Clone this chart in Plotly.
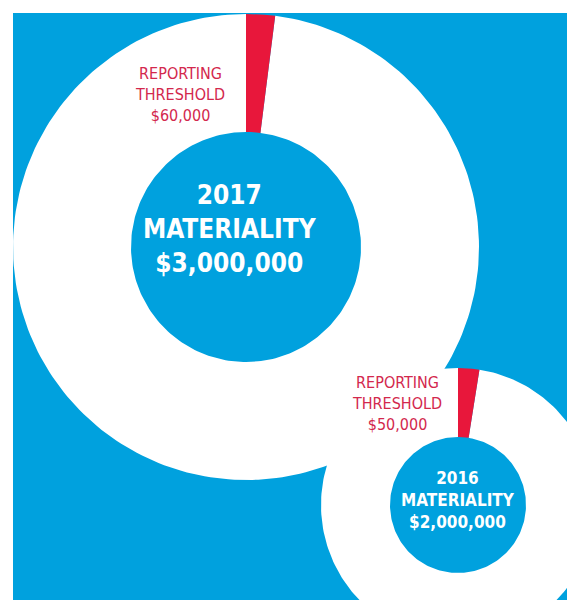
import numpy as np
import plotly.graph_objects as go

# Materiality figures and their reporting thresholds
years = ["2017", "2016"]
materiality = [3000000, 2000000]
threshold = [60000, 50000]

# Donut placement in pixel units (x right, y down)
centers = [(246, 247), (458, 505)]
outer_r = [233, 137]
inner_r = [115, 68]
center_text_pos = [(230, 229), (458, 500)]
label_pos = [(180, 94), (397, 403)]
center_font = [26, 17]

BLUE = "#00a1de"
RED = "#e8173b"
LABEL_RED = "#d3284d"
WHITE = "#ffffff"
FONT = "DejaVu Sans Condensed"

W, H = 567, 600
LEFT, TOP = 13, 13


def sector(cx, cy, r0, r1, t0, t1, n=240):
    """Annular sector, angles in degrees clockwise from 12 o'clock."""
    t = np.radians(np.linspace(t0, t1, n))
    xs = np.concatenate([cx + r1 * np.sin(t), cx + r0 * np.sin(t[::-1])])
    ys = np.concatenate([cy - r1 * np.cos(t), cy - r0 * np.cos(t[::-1])])
    return np.append(xs, xs[0]), np.append(ys, ys[0])


fig = go.Figure()
annotations = []

for i, year in enumerate(years):
    cx, cy = centers[i]
    share = threshold[i] / materiality[i]
    split = 360 * share
    for (a0, a1), color, name in (((split, 360), WHITE, "Materiality"),
                                  ((0, split), RED, "Reporting threshold")):
        xs, ys = sector(cx, cy, inner_r[i], outer_r[i], a0, a1)
        fig.add_trace(go.Scatter(
            x=xs, y=ys, mode="lines", fill="toself", fillcolor=color,
            line=dict(width=0, color=color), name=f"{name} {year}",
            hoverinfo="skip", showlegend=False))

    tx, ty = center_text_pos[i]
    annotations.append(dict(
        x=tx, y=ty, xref="x", yref="y", showarrow=False,
        text=f"<b>{year}<br>MATERIALITY<br>${materiality[i]:,.0f}</b>",
        font=dict(family=FONT, size=center_font[i], color=WHITE),
        align="center", xanchor="center", yanchor="middle"))
    lx, ly = label_pos[i]
    annotations.append(dict(
        x=lx, y=ly, xref="x", yref="y", showarrow=False,
        text=f"REPORTING<br>THRESHOLD<br>${threshold[i]:,.0f}",
        font=dict(family=FONT, size=16, color=LABEL_RED),
        align="center", xanchor="center", yanchor="middle"))

fig.update_layout(
    width=W, height=H,
    margin=dict(l=LEFT, r=0, t=TOP, b=0, pad=0),
    paper_bgcolor=WHITE, plot_bgcolor=BLUE,
    xaxis=dict(range=[LEFT, W], visible=False, fixedrange=True),
    yaxis=dict(range=[H, TOP], visible=False, fixedrange=True),
    annotations=annotations,
    showlegend=False,
)

fig.write_html("out.html", config={"displayModeBar": False})
